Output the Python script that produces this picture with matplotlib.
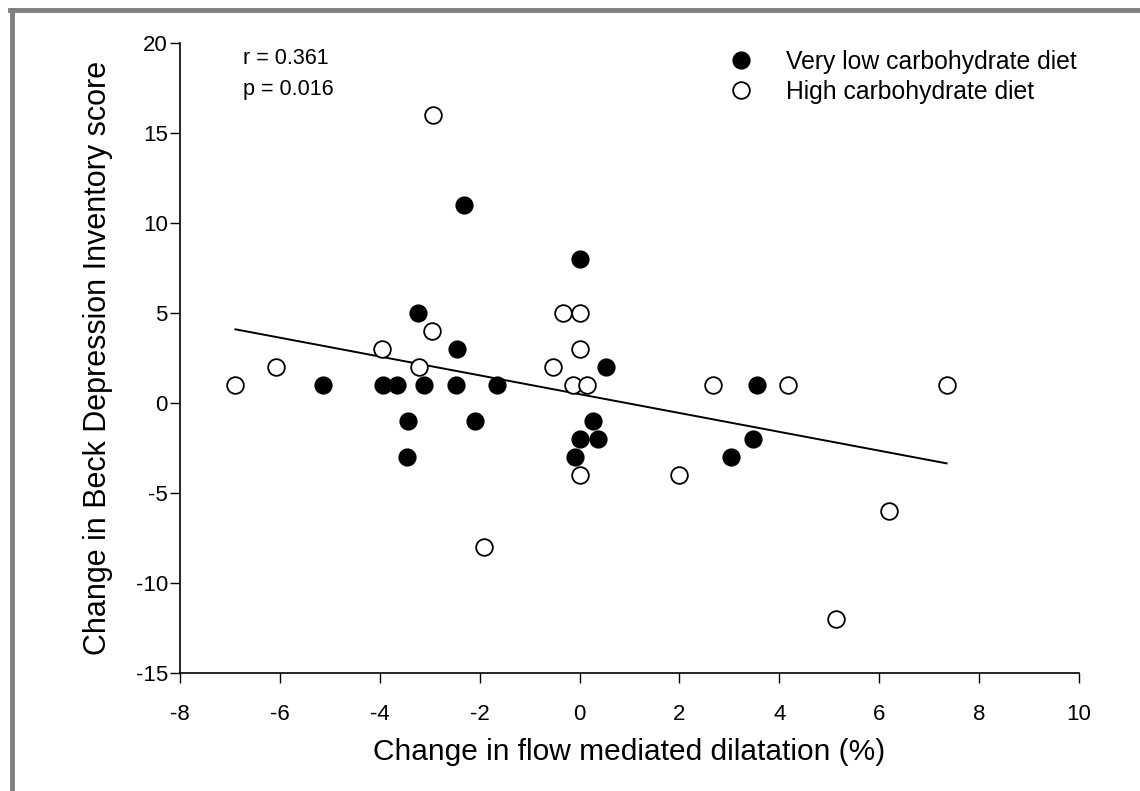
import matplotlib
matplotlib.use("Agg")
import matplotlib.pyplot as plt
import numpy as np
from matplotlib.lines import Line2D

plt.rcParams['font.family'] = ['Liberation Sans', 'DejaVu Sans']
plt.rcParams['axes.unicode_minus'] = False

# Very low carbohydrate diet (filled)
vlc_x = [-5.13, -3.93, -3.65, -3.12, -2.48, -1.66, -3.23, -2.45, -3.43, -2.10,
         -3.45, -2.32, 0.0, 0.52, 0.27, 0.0, 0.36, -0.10, 3.55, 3.47, 3.03]
vlc_y = [1, 1, 1, 1, 1, 1, 5, 3, -1, -1,
         -3, 11, 8, 2, -1, -2, -2, -3, 1, -2, -3]

# High carbohydrate diet (open)
hc_x = [-6.89, -6.07, -3.95, -3.22, -2.95, -2.94, -1.92, -0.34, 0.0, 0.0,
        -0.54, -0.14, 0.14, 0.0, 2.0, 2.67, 4.17, 7.35, 6.19, 5.13]
hc_y = [1, 2, 3, 2, 4, 16, -8, 5, 5, 3,
        2, 1, 1, -4, -4, 1, 1, 1, -6, -12]

# regression line as drawn
fit_slope = -0.523
fit_intercept = 0.49

x_ticks = [-8, -6, -4, -2, 0, 2, 4, 6, 8, 10]
y_ticks = [-15, -10, -5, 0, 5, 10, 15, 20]

fig = plt.figure(figsize=(11.4, 7.91), dpi=100)
ax = fig.add_axes([0.1579, 0.1492, 0.7886, 0.7964])

all_x = np.array(vlc_x + hc_x)
lx = np.array([all_x.min(), all_x.max()])
ax.plot(lx, fit_intercept + fit_slope * lx, color='black', lw=1.4, zorder=2)

ax.plot(vlc_x, vlc_y, 'o', ms=12, mfc='black', mec='black', mew=1.1,
        ls='none', label='Very low carbohydrate diet', zorder=3)
ax.plot(hc_x, hc_y, 'o', ms=12, mfc='white', mec='black', mew=1.3,
        ls='none', label='High carbohydrate diet', zorder=3)

ax.set_xlim(-8, 10)
ax.set_ylim(-15, 20)
ax.set_xticks(x_ticks)
ax.set_yticks(y_ticks)
ax.spines['top'].set_visible(False)
ax.spines['right'].set_visible(False)
ax.spines['left'].set_linewidth(1.2)
ax.spines['bottom'].set_linewidth(1.2)
ax.tick_params(direction='out', length=7.2, width=1, labelsize=16)
ax.tick_params(axis='y', pad=1.5)
ax.tick_params(axis='x', pad=15)

ax.set_xlabel('Change in flow mediated dilatation (%)', fontsize=21.5)
ax.set_ylabel('Change in Beck Depression Inventory score', fontsize=22)
ax.xaxis.set_label_coords(0.5, -0.103)
ax.yaxis.set_label_coords(-0.075, 0.5)

ax.text(0.070, 0.976, 'r = 0.361', transform=ax.transAxes,
        fontsize=15.5, va='center', ha='left')
ax.text(0.070, 0.927, 'p = 0.016', transform=ax.transAxes,
        fontsize=15.5, va='center', ha='left')

ax.legend(loc='upper right', bbox_to_anchor=(1.009, 1.005), frameon=False,
          fontsize=17.8, handletextpad=0.85, labelspacing=0.25,
          borderaxespad=0.0)

# gray frame (top and left edges)
fig.add_artist(Line2D([11.5 / 1140, 11.5 / 1140], [0, 1 - 9.5 / 791],
                      transform=fig.transFigure, color='#808080', lw=3.5))
fig.add_artist(Line2D([9.5 / 1140, 1], [1 - 9.5 / 791, 1 - 9.5 / 791],
                      transform=fig.transFigure, color='#808080', lw=3.5))

fig.savefig('out.png', dpi=100)
